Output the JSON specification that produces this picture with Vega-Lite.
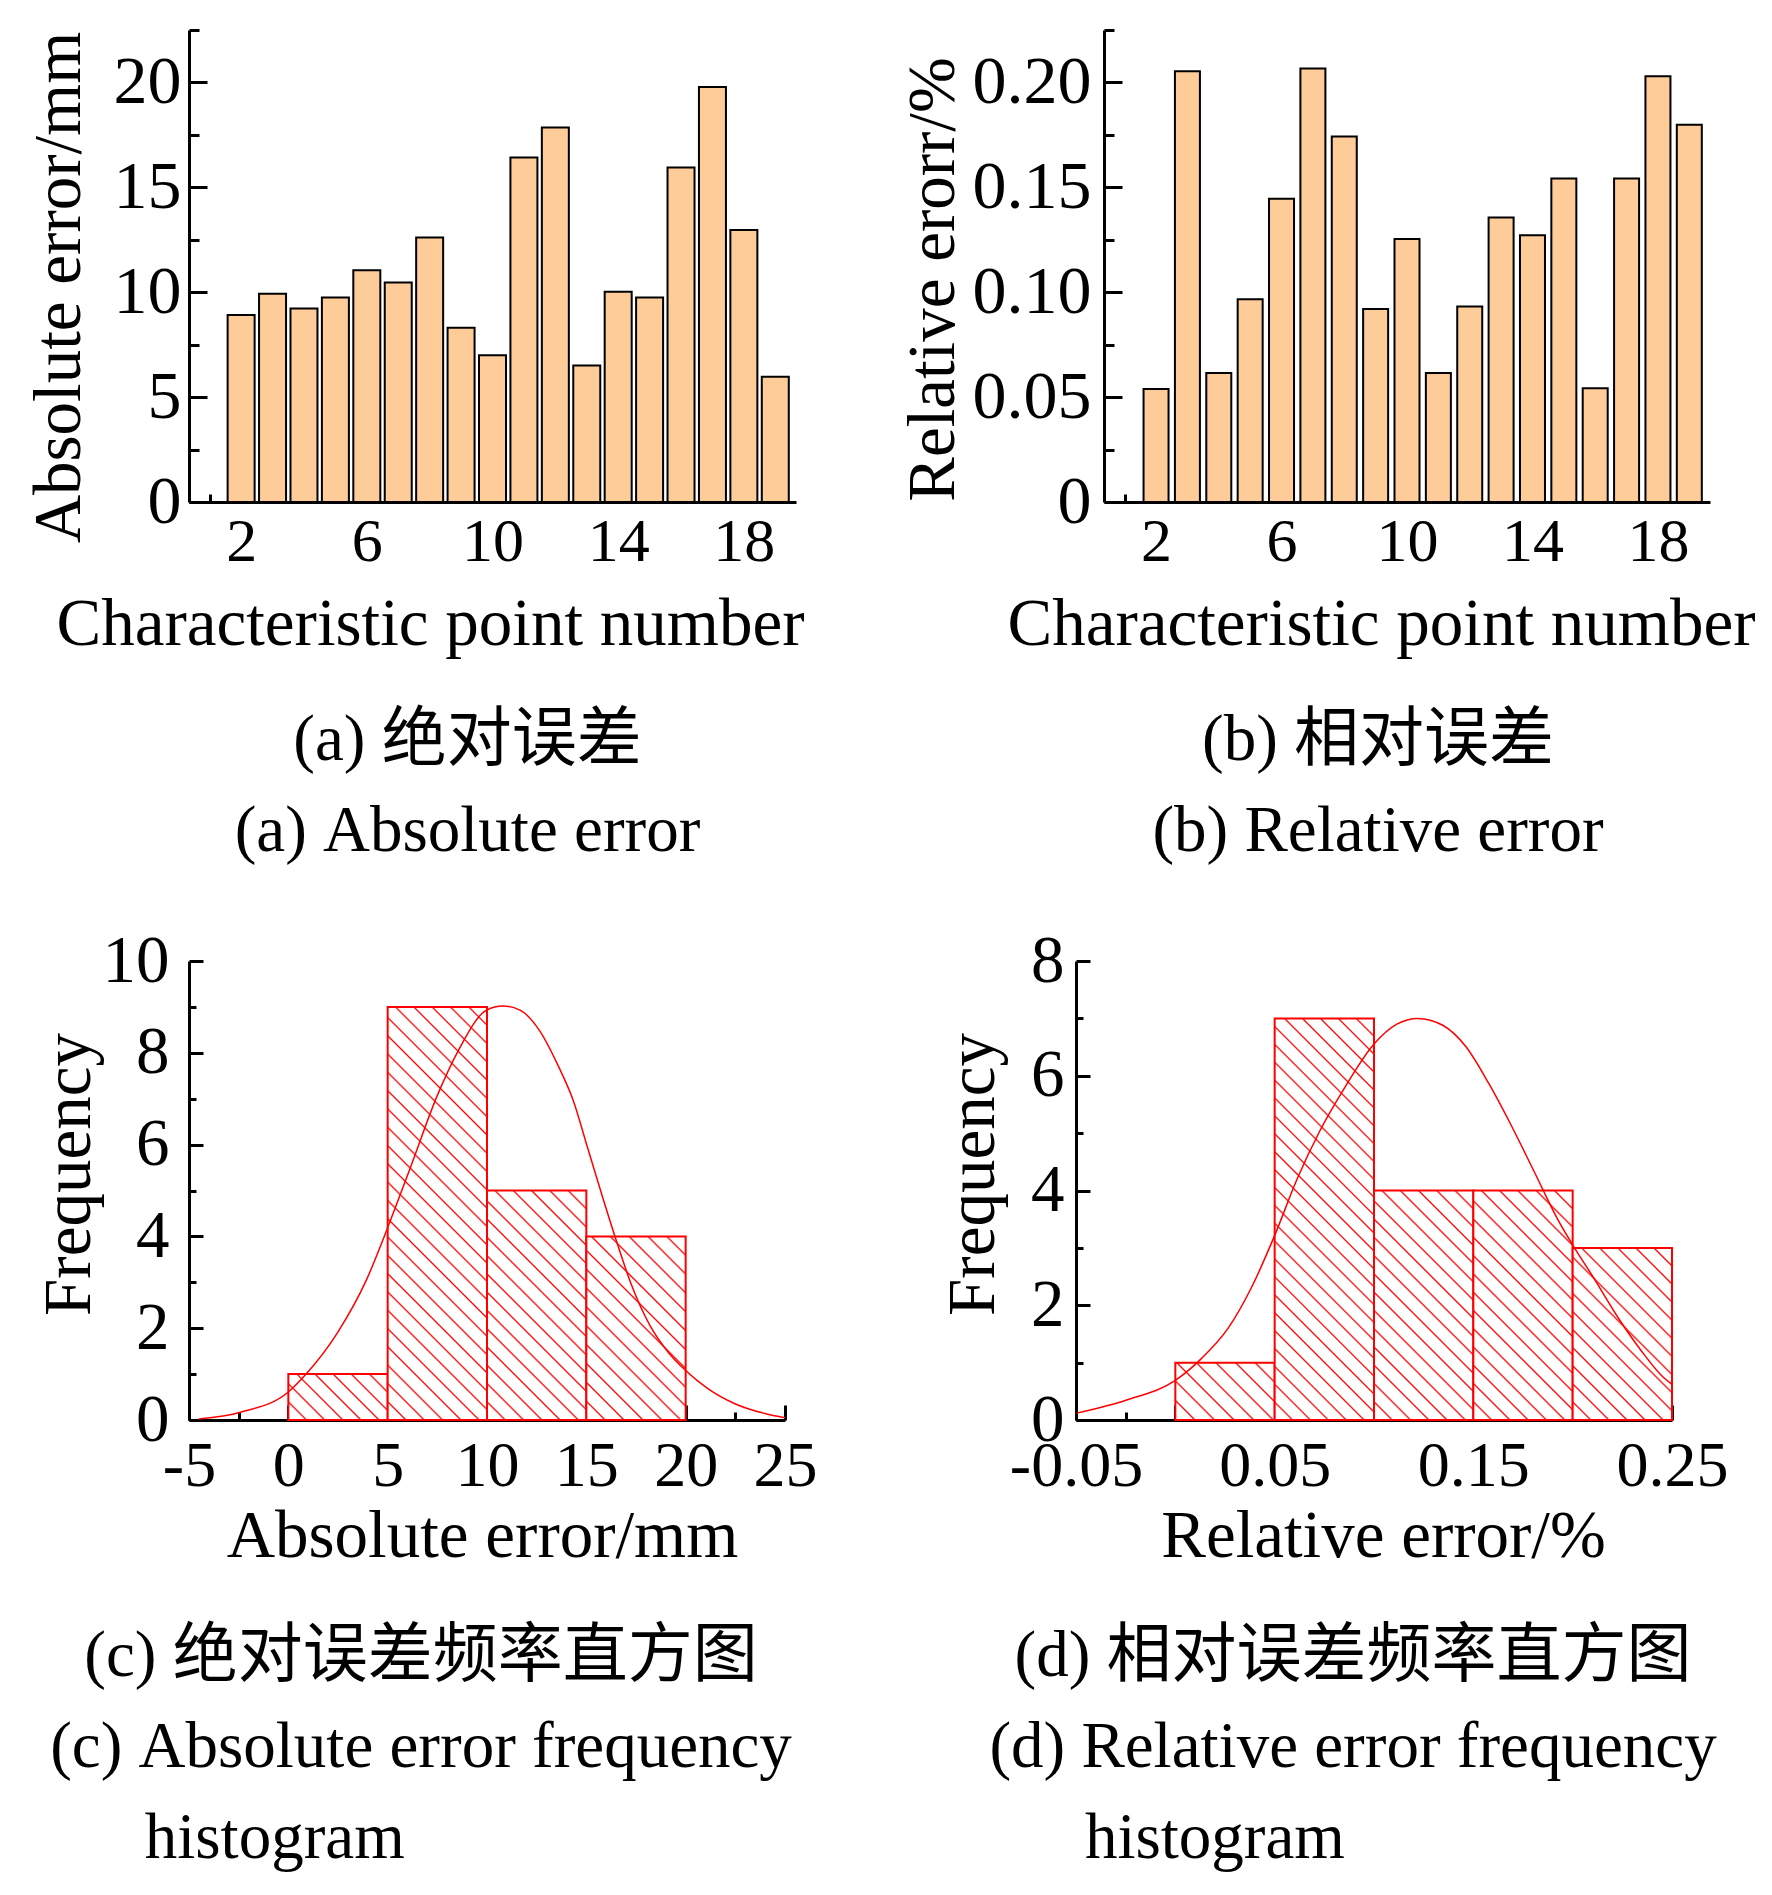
{
"$schema": "https://vega.github.io/schema/vega-lite/v6.json",
"background": "white",
"padding": {"left": 24, "top": 28, "right": 10, "bottom": 10},
"config": {
  "view": {"stroke": null},
  "font": "Liberation Serif",
  "axis": {"labelFont": "Liberation Serif", "titleFont": "Liberation Serif", "labelFontSize": 62, "titleFontSize": 67, "titleFontWeight": "normal", "labelColor": "black", "titleColor": "black", "domainColor": "black", "domainWidth": 3, "tickColor": "black", "tickWidth": 3, "grid": false, "labelFlush": false, "labelOverlap": false},
  "title": {"font": "Liberation Serif, Noto Sans CJK SC", "fontSize": 65, "fontWeight": "normal", "color": "black", "orient": "bottom", "anchor": "middle", "frame": "group", "lineHeight": 91}
},
"spacing": 931,
"bounds": "flush",
"vconcat": [
{"spacing": 308, "bounds": "flush", "hconcat": [
{
  "width": 607, "height": 472,
  "title": {"text": ["(a) 绝对误差", "(a) Absolute error"], "dx": -25, "offset": 52},
  "data": {"values": [{"x":2,"y":8.92},{"x":3,"y":9.93},{"x":4,"y":9.22},{"x":5,"y":9.75},{"x":6,"y":11.05},{"x":7,"y":10.46},{"x":8,"y":12.61},{"x":9,"y":8.31},{"x":10,"y":7.0},{"x":11,"y":16.42},{"x":12,"y":17.85},{"x":13,"y":6.51},{"x":14,"y":10.02},{"x":15,"y":9.75},{"x":16,"y":15.95},{"x":17,"y":19.78},{"x":18,"y":12.97},{"x":19,"y":5.97}]},
  "encoding": {
    "x": {"field": "x", "type": "quantitative", "scale": {"domain": [0.5, 19.5], "nice": false, "zero": false}, "axis": null},
    "y": {"field": "y", "type": "quantitative", "stack": null, "scale": {"domain": [0, 22.5], "nice": false}, "axis": null}
  },
  "layer": [
    {"mark": {"type": "bar", "orient": "vertical", "fill": "#FECC99", "stroke": "black", "strokeWidth": 2, "width": 27}},
    {"mark": {"type": "point", "opacity": 0},
     "encoding": {
       "x": {"field": "x", "type": "quantitative", "scale": {"domain": [0.5, 19.5], "nice": false, "zero": false},
             "axis": {"orient": "bottom", "values": [2,4,6,8,10,12,14,16,18], "labelExpr": "datum.value % 4 == 2 ? datum.label : ''", "tickSize": -16, "labelPadding": 25, "title": "Characteristic point number", "titleX": 241, "titlePadding": 14, "minExtent": 75, "maxExtent": 75}},
       "y": {"field": "y", "type": "quantitative", "scale": {"domain": [0, 22.5], "nice": false},
             "axis": {"orient": "left", "values": [0,5,10,15,20], "tickSize": -18, "labelPadding": 26, "labelFontSize": 68, "title": "Absolute error/mm", "titleY": 257, "titlePadding": 18, "minExtent": 78, "maxExtent": 78}}
     }},
    {"mark": {"type": "point", "opacity": 0},
     "encoding": {
       "x": {"field": "x", "type": "quantitative", "scale": {"domain": [0.5, 19.5], "nice": false, "zero": false},
             "axis": {"orient": "bottom", "values": [1,3,5,7,9,11,13,15,17,19], "labels": false, "domain": false, "tickSize": -8, "title": null}},
       "y": {"field": "y", "type": "quantitative", "scale": {"domain": [0, 22.5], "nice": false},
             "axis": {"orient": "left", "values": [2.5,7.5,12.5,17.5,22.5], "labels": false, "domain": false, "tickSize": -10, "title": null}}
     }}
  ],
  "resolve": {"axis": {"x": "independent", "y": "independent"}}
},
{
  "width": 606, "height": 472,
  "title": {"text": ["(b) 相对误差", "(b) Relative error"], "dx": -29, "offset": 52},
  "data": {"values": [{"x":2,"y":0.0539},{"x":3,"y":0.2053},{"x":4,"y":0.0615},{"x":5,"y":0.0966},{"x":6,"y":0.1446},{"x":7,"y":0.2066},{"x":8,"y":0.1742},{"x":9,"y":0.092},{"x":10,"y":0.1254},{"x":11,"y":0.0615},{"x":12,"y":0.0932},{"x":13,"y":0.1356},{"x":14,"y":0.1271},{"x":15,"y":0.1542},{"x":16,"y":0.0542},{"x":17,"y":0.1542},{"x":18,"y":0.2029},{"x":19,"y":0.1798}]},
  "encoding": {
    "x": {"field": "x", "type": "quantitative", "scale": {"domain": [0.5, 19.5], "nice": false, "zero": false}, "axis": null},
    "y": {"field": "y", "type": "quantitative", "stack": null, "scale": {"domain": [0, 0.225], "nice": false}, "axis": null}
  },
  "layer": [
    {"mark": {"type": "bar", "orient": "vertical", "fill": "#FECC99", "stroke": "black", "strokeWidth": 2, "width": 25}},
    {"mark": {"type": "point", "opacity": 0},
     "encoding": {
       "x": {"field": "x", "type": "quantitative", "scale": {"domain": [0.5, 19.5], "nice": false, "zero": false},
             "axis": {"orient": "bottom", "values": [2,4,6,8,10,12,14,16,18], "labelExpr": "datum.value % 4 == 2 ? datum.label : ''", "tickSize": -16, "labelPadding": 25, "title": "Characteristic point number", "titleX": 277, "titlePadding": 14, "minExtent": 75, "maxExtent": 75}},
       "y": {"field": "y", "type": "quantitative", "scale": {"domain": [0, 0.225], "nice": false},
             "axis": {"orient": "left", "values": [0,0.05,0.1,0.15,0.2], "labelExpr": "datum.value == 0 ? '0' : format(datum.value, '.2f')", "tickSize": -18, "labelPadding": 31, "labelFontSize": 68, "title": "Relative erorr/%", "titleY": 249, "titlePadding": 19, "minExtent": 118, "maxExtent": 118}}
     }},
    {"mark": {"type": "point", "opacity": 0},
     "encoding": {
       "x": {"field": "x", "type": "quantitative", "scale": {"domain": [0.5, 19.5], "nice": false, "zero": false},
             "axis": {"orient": "bottom", "values": [1,3,5,7,9,11,13,15,17,19], "labels": false, "domain": false, "tickSize": -8, "title": null}},
       "y": {"field": "y", "type": "quantitative", "scale": {"domain": [0, 0.225], "nice": false},
             "axis": {"orient": "left", "values": [0.025,0.075,0.125,0.175,0.225], "labels": false, "domain": false, "tickSize": -10, "title": null}}
     }}
  ],
  "resolve": {"axis": {"x": "independent", "y": "independent"}}
}
]},
{"spacing": 291, "bounds": "flush", "hconcat": [
{
  "width": 596, "height": 459,
  "title": {"text": ["(c) 绝对误差频率直方图", "(c) Absolute error frequency", "histogram\u00a0\u00a0\u00a0\u00a0\u00a0\u00a0\u00a0\u00a0\u00a0\u00a0\u00a0\u00a0\u00a0\u00a0\u00a0\u00a0\u00a0\u00a0\u200b"], "dx": -66, "offset": 56},
  "data": {"values": [{"x":0,"x2":5,"y":1},{"x":5,"x2":10,"y":9},{"x":10,"x2":15,"y":5},{"x":15,"x2":20,"y":4}]},
  "encoding": {
    "x": {"field": "x", "type": "quantitative", "scale": {"domain": [-5, 25], "nice": false, "zero": false}, "axis": null},
    "y": {"field": "y", "type": "quantitative", "stack": null, "scale": {"domain": [0, 10], "nice": false}, "axis": null}
  },
  "layer": [
    {"transform": [{"filter": "datum.y == 1"}],
     "mark": {"type": "rect", "stroke": "red", "strokeWidth": 2, "fill": {"gradient": "linear", "x1": 0, "y1": 1, "x2": 1.2048, "y2": 0.4431, "stops": [{"offset":0.1126,"color":"#fff"},{"offset":0.125,"color":"red"},{"offset":0.1374,"color":"#fff"},{"offset":0.2376,"color":"#fff"},{"offset":0.25,"color":"red"},{"offset":0.2624,"color":"#fff"},{"offset":0.3626,"color":"#fff"},{"offset":0.375,"color":"red"},{"offset":0.3874,"color":"#fff"},{"offset":0.4876,"color":"#fff"},{"offset":0.5,"color":"red"},{"offset":0.5124,"color":"#fff"},{"offset":0.6126,"color":"#fff"},{"offset":0.625,"color":"red"},{"offset":0.6374,"color":"#fff"},{"offset":0.7376,"color":"#fff"},{"offset":0.75,"color":"red"},{"offset":0.7624,"color":"#fff"},{"offset":0.8626,"color":"#fff"},{"offset":0.875,"color":"red"},{"offset":0.8874,"color":"#fff"}]}},
     "encoding": {"x2": {"field": "x2"}, "y2": {"datum": 0}}},
    {"transform": [{"filter": "datum.y == 9"}],
     "mark": {"type": "rect", "stroke": "red", "strokeWidth": 2, "fill": {"gradient": "linear", "x1": 0, "y1": 1, "x2": 0.2819, "y2": -0.1726, "stops": [{"offset":0.0322,"color":"#fff"},{"offset":0.0357,"color":"red"},{"offset":0.0392,"color":"#fff"},{"offset":0.0679,"color":"#fff"},{"offset":0.0714,"color":"red"},{"offset":0.0749,"color":"#fff"},{"offset":0.1036,"color":"#fff"},{"offset":0.1071,"color":"red"},{"offset":0.1106,"color":"#fff"},{"offset":0.1394,"color":"#fff"},{"offset":0.1429,"color":"red"},{"offset":0.1464,"color":"#fff"},{"offset":0.1751,"color":"#fff"},{"offset":0.1786,"color":"red"},{"offset":0.1821,"color":"#fff"},{"offset":0.2108,"color":"#fff"},{"offset":0.2143,"color":"red"},{"offset":0.2178,"color":"#fff"},{"offset":0.2465,"color":"#fff"},{"offset":0.25,"color":"red"},{"offset":0.2535,"color":"#fff"},{"offset":0.2822,"color":"#fff"},{"offset":0.2857,"color":"red"},{"offset":0.2892,"color":"#fff"},{"offset":0.3179,"color":"#fff"},{"offset":0.3214,"color":"red"},{"offset":0.3249,"color":"#fff"},{"offset":0.3536,"color":"#fff"},{"offset":0.3571,"color":"red"},{"offset":0.3606,"color":"#fff"},{"offset":0.3894,"color":"#fff"},{"offset":0.3929,"color":"red"},{"offset":0.3964,"color":"#fff"},{"offset":0.4251,"color":"#fff"},{"offset":0.4286,"color":"red"},{"offset":0.4321,"color":"#fff"},{"offset":0.4608,"color":"#fff"},{"offset":0.4643,"color":"red"},{"offset":0.4678,"color":"#fff"},{"offset":0.4965,"color":"#fff"},{"offset":0.5,"color":"red"},{"offset":0.5035,"color":"#fff"},{"offset":0.5322,"color":"#fff"},{"offset":0.5357,"color":"red"},{"offset":0.5392,"color":"#fff"},{"offset":0.5679,"color":"#fff"},{"offset":0.5714,"color":"red"},{"offset":0.5749,"color":"#fff"},{"offset":0.6036,"color":"#fff"},{"offset":0.6071,"color":"red"},{"offset":0.6106,"color":"#fff"},{"offset":0.6394,"color":"#fff"},{"offset":0.6429,"color":"red"},{"offset":0.6464,"color":"#fff"},{"offset":0.6751,"color":"#fff"},{"offset":0.6786,"color":"red"},{"offset":0.6821,"color":"#fff"},{"offset":0.7108,"color":"#fff"},{"offset":0.7143,"color":"red"},{"offset":0.7178,"color":"#fff"},{"offset":0.7465,"color":"#fff"},{"offset":0.75,"color":"red"},{"offset":0.7535,"color":"#fff"},{"offset":0.7822,"color":"#fff"},{"offset":0.7857,"color":"red"},{"offset":0.7892,"color":"#fff"},{"offset":0.8179,"color":"#fff"},{"offset":0.8214,"color":"red"},{"offset":0.8249,"color":"#fff"},{"offset":0.8536,"color":"#fff"},{"offset":0.8571,"color":"red"},{"offset":0.8606,"color":"#fff"},{"offset":0.8894,"color":"#fff"},{"offset":0.8929,"color":"red"},{"offset":0.8964,"color":"#fff"},{"offset":0.9251,"color":"#fff"},{"offset":0.9286,"color":"red"},{"offset":0.9321,"color":"#fff"},{"offset":0.9608,"color":"#fff"},{"offset":0.9643,"color":"red"},{"offset":0.9678,"color":"#fff"}]}},
     "encoding": {"x2": {"field": "x2"}, "y2": {"datum": 0}}},
    {"transform": [{"filter": "datum.y == 5"}],
     "mark": {"type": "rect", "stroke": "red", "strokeWidth": 2, "fill": {"gradient": "linear", "x1": 0, "y1": 1, "x2": 0.5221, "y2": -0.2068, "stops": [{"offset":0.0501,"color":"#fff"},{"offset":0.0556,"color":"red"},{"offset":0.0611,"color":"#fff"},{"offset":0.1056,"color":"#fff"},{"offset":0.1111,"color":"red"},{"offset":0.1166,"color":"#fff"},{"offset":0.1612,"color":"#fff"},{"offset":0.1667,"color":"red"},{"offset":0.1722,"color":"#fff"},{"offset":0.2167,"color":"#fff"},{"offset":0.2222,"color":"red"},{"offset":0.2277,"color":"#fff"},{"offset":0.2723,"color":"#fff"},{"offset":0.2778,"color":"red"},{"offset":0.2833,"color":"#fff"},{"offset":0.3278,"color":"#fff"},{"offset":0.3333,"color":"red"},{"offset":0.3388,"color":"#fff"},{"offset":0.3834,"color":"#fff"},{"offset":0.3889,"color":"red"},{"offset":0.3944,"color":"#fff"},{"offset":0.4389,"color":"#fff"},{"offset":0.4444,"color":"red"},{"offset":0.4499,"color":"#fff"},{"offset":0.4945,"color":"#fff"},{"offset":0.5,"color":"red"},{"offset":0.5055,"color":"#fff"},{"offset":0.5501,"color":"#fff"},{"offset":0.5556,"color":"red"},{"offset":0.5611,"color":"#fff"},{"offset":0.6056,"color":"#fff"},{"offset":0.6111,"color":"red"},{"offset":0.6166,"color":"#fff"},{"offset":0.6612,"color":"#fff"},{"offset":0.6667,"color":"red"},{"offset":0.6722,"color":"#fff"},{"offset":0.7167,"color":"#fff"},{"offset":0.7222,"color":"red"},{"offset":0.7277,"color":"#fff"},{"offset":0.7723,"color":"#fff"},{"offset":0.7778,"color":"red"},{"offset":0.7833,"color":"#fff"},{"offset":0.8278,"color":"#fff"},{"offset":0.8333,"color":"red"},{"offset":0.8388,"color":"#fff"},{"offset":0.8834,"color":"#fff"},{"offset":0.8889,"color":"red"},{"offset":0.8944,"color":"#fff"},{"offset":0.9389,"color":"#fff"},{"offset":0.9444,"color":"red"},{"offset":0.9499,"color":"#fff"}]}},
     "encoding": {"x2": {"field": "x2"}, "y2": {"datum": 0}}},
    {"transform": [{"filter": "datum.y == 4"}],
     "mark": {"type": "rect", "stroke": "red", "strokeWidth": 2, "fill": {"gradient": "linear", "x1": 0, "y1": 1, "x2": 0.6448, "y2": -0.1921, "stops": [{"offset":0.0603,"color":"#fff"},{"offset":0.0667,"color":"red"},{"offset":0.0731,"color":"#fff"},{"offset":0.1269,"color":"#fff"},{"offset":0.1333,"color":"red"},{"offset":0.1397,"color":"#fff"},{"offset":0.1936,"color":"#fff"},{"offset":0.2,"color":"red"},{"offset":0.2064,"color":"#fff"},{"offset":0.2603,"color":"#fff"},{"offset":0.2667,"color":"red"},{"offset":0.2731,"color":"#fff"},{"offset":0.3269,"color":"#fff"},{"offset":0.3333,"color":"red"},{"offset":0.3397,"color":"#fff"},{"offset":0.3936,"color":"#fff"},{"offset":0.4,"color":"red"},{"offset":0.4064,"color":"#fff"},{"offset":0.4603,"color":"#fff"},{"offset":0.4667,"color":"red"},{"offset":0.4731,"color":"#fff"},{"offset":0.5269,"color":"#fff"},{"offset":0.5333,"color":"red"},{"offset":0.5397,"color":"#fff"},{"offset":0.5936,"color":"#fff"},{"offset":0.6,"color":"red"},{"offset":0.6064,"color":"#fff"},{"offset":0.6603,"color":"#fff"},{"offset":0.6667,"color":"red"},{"offset":0.6731,"color":"#fff"},{"offset":0.7269,"color":"#fff"},{"offset":0.7333,"color":"red"},{"offset":0.7397,"color":"#fff"},{"offset":0.7936,"color":"#fff"},{"offset":0.8,"color":"red"},{"offset":0.8064,"color":"#fff"},{"offset":0.8603,"color":"#fff"},{"offset":0.8667,"color":"red"},{"offset":0.8731,"color":"#fff"},{"offset":0.9269,"color":"#fff"},{"offset":0.9333,"color":"red"},{"offset":0.9397,"color":"#fff"}]}},
     "encoding": {"x2": {"field": "x2"}, "y2": {"datum": 0}}},
    {"data": {"values": [{"x":-4.5,"y":0.02},{"x":-2.41,"y":0.17},{"x":0,"y":0.61},{"x":0.87,"y":0.99},{"x":2.47,"y":1.9},{"x":3.95,"y":3.07},{"x":5,"y":4.19},{"x":6.17,"y":5.53},{"x":7.48,"y":7.05},{"x":8.57,"y":8.06},{"x":9.98,"y":8.93},{"x":10.8,"y":9.02},{"x":11.66,"y":8.93},{"x":12.62,"y":8.5},{"x":13.58,"y":7.72},{"x":14.35,"y":6.95},{"x":15.03,"y":5.98},{"x":15.8,"y":4.88},{"x":16.47,"y":3.96},{"x":17.24,"y":2.98},{"x":18.2,"y":2.06},{"x":19.17,"y":1.45},{"x":20,"y":1.08},{"x":21.1,"y":0.69},{"x":22.45,"y":0.36},{"x":23.99,"y":0.14},{"x":25,"y":0.05}]},
     "mark": {"type": "line", "color": "red", "strokeWidth": 1.5, "interpolate": "monotone"}},
    {"mark": {"type": "point", "opacity": 0},
     "encoding": {
       "x": {"field": "x", "type": "quantitative", "scale": {"domain": [-5, 25], "nice": false, "zero": false},
             "axis": {"orient": "bottom", "values": [-5,0,5,10,15,20,25], "labelExpr": "(datum.value < 0 ? '-' : '') + format(abs(datum.value), 'd')", "tickSize": -15, "labelPadding": 29, "labelFontSize": 64, "title": "Absolute error/mm", "titleX": 293, "titlePadding": 13, "minExtent": 70, "maxExtent": 70}},
       "y": {"field": "y", "type": "quantitative", "scale": {"domain": [0, 10], "nice": false},
             "axis": {"orient": "left", "values": [0,2,4,6,8,10], "tickSize": -14, "labelPadding": 34, "labelFontSize": 67, "title": "Frequency", "titleY": 213, "titlePadding": 24, "minExtent": 62, "maxExtent": 62}}
     }},
    {"mark": {"type": "point", "opacity": 0},
     "encoding": {
       "x": {"field": "x", "type": "quantitative", "scale": {"domain": [-5, 25], "nice": false, "zero": false},
             "axis": {"orient": "bottom", "values": [-2.5,2.5,7.5,12.5,17.5,22.5], "labels": false, "domain": false, "tickSize": -8, "title": null}},
       "y": {"field": "y", "type": "quantitative", "scale": {"domain": [0, 10], "nice": false},
             "axis": {"orient": "left", "values": [1,3,5,7,9], "labels": false, "domain": false, "tickSize": -7, "title": null}}
     }}
  ],
  "resolve": {"axis": {"x": "independent", "y": "independent"}}
},
{
  "width": 596, "height": 459,
  "title": {"text": ["(d) 相对误差频率直方图", "(d) Relative error frequency", "histogram\u00a0\u00a0\u00a0\u00a0\u00a0\u00a0\u00a0\u00a0\u00a0\u00a0\u00a0\u00a0\u00a0\u00a0\u00a0\u00a0\u00a0\u200b"], "dx": -21, "offset": 56},
  "data": {"values": [{"x":0,"x2":0.05,"y":1},{"x":0.05,"x2":0.1,"y":7},{"x":0.1,"x2":0.15,"y":4},{"x":0.15,"x2":0.2,"y":4},{"x":0.2,"x2":0.25,"y":3}]},
  "encoding": {
    "x": {"field": "x", "type": "quantitative", "scale": {"domain": [-0.05, 0.25], "nice": false, "zero": false}, "axis": null},
    "y": {"field": "y", "type": "quantitative", "stack": null, "scale": {"domain": [0, 8], "nice": false}, "axis": null}
  },
  "layer": [
    {"transform": [{"filter": "datum.y == 1"}],
     "mark": {"type": "rect", "stroke": "red", "strokeWidth": 2, "fill": {"gradient": "linear", "x1": 0, "y1": 1, "x2": 1.1828, "y2": 0.3163, "stops": [{"offset":0.1135,"color":"#fff"},{"offset":0.125,"color":"red"},{"offset":0.1365,"color":"#fff"},{"offset":0.2385,"color":"#fff"},{"offset":0.25,"color":"red"},{"offset":0.2615,"color":"#fff"},{"offset":0.3635,"color":"#fff"},{"offset":0.375,"color":"red"},{"offset":0.3865,"color":"#fff"},{"offset":0.4885,"color":"#fff"},{"offset":0.5,"color":"red"},{"offset":0.5115,"color":"#fff"},{"offset":0.6135,"color":"#fff"},{"offset":0.625,"color":"red"},{"offset":0.6365,"color":"#fff"},{"offset":0.7385,"color":"#fff"},{"offset":0.75,"color":"red"},{"offset":0.7615,"color":"#fff"},{"offset":0.8635,"color":"#fff"},{"offset":0.875,"color":"red"},{"offset":0.8865,"color":"#fff"}]}},
     "encoding": {"x2": {"field": "x2"}, "y2": {"datum": 0}}},
    {"transform": [{"filter": "datum.y == 7"}],
     "mark": {"type": "rect", "stroke": "red", "strokeWidth": 2, "fill": {"gradient": "linear", "x1": 0, "y1": 1, "x2": 0.2906, "y2": -0.1754, "stops": [{"offset":0.0322,"color":"#fff"},{"offset":0.0357,"color":"red"},{"offset":0.0392,"color":"#fff"},{"offset":0.0679,"color":"#fff"},{"offset":0.0714,"color":"red"},{"offset":0.0749,"color":"#fff"},{"offset":0.1036,"color":"#fff"},{"offset":0.1071,"color":"red"},{"offset":0.1106,"color":"#fff"},{"offset":0.1394,"color":"#fff"},{"offset":0.1429,"color":"red"},{"offset":0.1464,"color":"#fff"},{"offset":0.1751,"color":"#fff"},{"offset":0.1786,"color":"red"},{"offset":0.1821,"color":"#fff"},{"offset":0.2108,"color":"#fff"},{"offset":0.2143,"color":"red"},{"offset":0.2178,"color":"#fff"},{"offset":0.2465,"color":"#fff"},{"offset":0.25,"color":"red"},{"offset":0.2535,"color":"#fff"},{"offset":0.2822,"color":"#fff"},{"offset":0.2857,"color":"red"},{"offset":0.2892,"color":"#fff"},{"offset":0.3179,"color":"#fff"},{"offset":0.3214,"color":"red"},{"offset":0.3249,"color":"#fff"},{"offset":0.3536,"color":"#fff"},{"offset":0.3571,"color":"red"},{"offset":0.3606,"color":"#fff"},{"offset":0.3894,"color":"#fff"},{"offset":0.3929,"color":"red"},{"offset":0.3964,"color":"#fff"},{"offset":0.4251,"color":"#fff"},{"offset":0.4286,"color":"red"},{"offset":0.4321,"color":"#fff"},{"offset":0.4608,"color":"#fff"},{"offset":0.4643,"color":"red"},{"offset":0.4678,"color":"#fff"},{"offset":0.4965,"color":"#fff"},{"offset":0.5,"color":"red"},{"offset":0.5035,"color":"#fff"},{"offset":0.5322,"color":"#fff"},{"offset":0.5357,"color":"red"},{"offset":0.5392,"color":"#fff"},{"offset":0.5679,"color":"#fff"},{"offset":0.5714,"color":"red"},{"offset":0.5749,"color":"#fff"},{"offset":0.6036,"color":"#fff"},{"offset":0.6071,"color":"red"},{"offset":0.6106,"color":"#fff"},{"offset":0.6394,"color":"#fff"},{"offset":0.6429,"color":"red"},{"offset":0.6464,"color":"#fff"},{"offset":0.6751,"color":"#fff"},{"offset":0.6786,"color":"red"},{"offset":0.6821,"color":"#fff"},{"offset":0.7108,"color":"#fff"},{"offset":0.7143,"color":"red"},{"offset":0.7178,"color":"#fff"},{"offset":0.7465,"color":"#fff"},{"offset":0.75,"color":"red"},{"offset":0.7535,"color":"#fff"},{"offset":0.7822,"color":"#fff"},{"offset":0.7857,"color":"red"},{"offset":0.7892,"color":"#fff"},{"offset":0.8179,"color":"#fff"},{"offset":0.8214,"color":"red"},{"offset":0.8249,"color":"#fff"},{"offset":0.8536,"color":"#fff"},{"offset":0.8571,"color":"red"},{"offset":0.8606,"color":"#fff"},{"offset":0.8894,"color":"#fff"},{"offset":0.8929,"color":"red"},{"offset":0.8964,"color":"#fff"},{"offset":0.9251,"color":"#fff"},{"offset":0.9286,"color":"red"},{"offset":0.9321,"color":"#fff"},{"offset":0.9608,"color":"#fff"},{"offset":0.9643,"color":"red"},{"offset":0.9678,"color":"#fff"}]}},
     "encoding": {"x2": {"field": "x2"}, "y2": {"datum": 0}}},
    {"transform": [{"filter": "datum.y == 4"}],
     "mark": {"type": "rect", "stroke": "red", "strokeWidth": 2, "fill": {"gradient": "linear", "x1": 0, "y1": 1, "x2": 0.5221, "y2": -0.2068, "stops": [{"offset":0.0501,"color":"#fff"},{"offset":0.0556,"color":"red"},{"offset":0.0611,"color":"#fff"},{"offset":0.1056,"color":"#fff"},{"offset":0.1111,"color":"red"},{"offset":0.1166,"color":"#fff"},{"offset":0.1612,"color":"#fff"},{"offset":0.1667,"color":"red"},{"offset":0.1722,"color":"#fff"},{"offset":0.2167,"color":"#fff"},{"offset":0.2222,"color":"red"},{"offset":0.2277,"color":"#fff"},{"offset":0.2723,"color":"#fff"},{"offset":0.2778,"color":"red"},{"offset":0.2833,"color":"#fff"},{"offset":0.3278,"color":"#fff"},{"offset":0.3333,"color":"red"},{"offset":0.3388,"color":"#fff"},{"offset":0.3834,"color":"#fff"},{"offset":0.3889,"color":"red"},{"offset":0.3944,"color":"#fff"},{"offset":0.4389,"color":"#fff"},{"offset":0.4444,"color":"red"},{"offset":0.4499,"color":"#fff"},{"offset":0.4945,"color":"#fff"},{"offset":0.5,"color":"red"},{"offset":0.5055,"color":"#fff"},{"offset":0.5501,"color":"#fff"},{"offset":0.5556,"color":"red"},{"offset":0.5611,"color":"#fff"},{"offset":0.6056,"color":"#fff"},{"offset":0.6111,"color":"red"},{"offset":0.6166,"color":"#fff"},{"offset":0.6612,"color":"#fff"},{"offset":0.6667,"color":"red"},{"offset":0.6722,"color":"#fff"},{"offset":0.7167,"color":"#fff"},{"offset":0.7222,"color":"red"},{"offset":0.7277,"color":"#fff"},{"offset":0.7723,"color":"#fff"},{"offset":0.7778,"color":"red"},{"offset":0.7833,"color":"#fff"},{"offset":0.8278,"color":"#fff"},{"offset":0.8333,"color":"red"},{"offset":0.8388,"color":"#fff"},{"offset":0.8834,"color":"#fff"},{"offset":0.8889,"color":"red"},{"offset":0.8944,"color":"#fff"},{"offset":0.9389,"color":"#fff"},{"offset":0.9444,"color":"red"},{"offset":0.9499,"color":"#fff"}]}},
     "encoding": {"x2": {"field": "x2"}, "y2": {"datum": 0}}},
    {"transform": [{"filter": "datum.y == 3"}],
     "mark": {"type": "rect", "stroke": "red", "strokeWidth": 2, "fill": {"gradient": "linear", "x1": 0, "y1": 1, "x2": 0.6826, "y2": -0.1831, "stops": [{"offset":0.0601,"color":"#fff"},{"offset":0.0667,"color":"red"},{"offset":0.0733,"color":"#fff"},{"offset":0.1267,"color":"#fff"},{"offset":0.1333,"color":"red"},{"offset":0.1399,"color":"#fff"},{"offset":0.1934,"color":"#fff"},{"offset":0.2,"color":"red"},{"offset":0.2066,"color":"#fff"},{"offset":0.2601,"color":"#fff"},{"offset":0.2667,"color":"red"},{"offset":0.2733,"color":"#fff"},{"offset":0.3267,"color":"#fff"},{"offset":0.3333,"color":"red"},{"offset":0.3399,"color":"#fff"},{"offset":0.3934,"color":"#fff"},{"offset":0.4,"color":"red"},{"offset":0.4066,"color":"#fff"},{"offset":0.4601,"color":"#fff"},{"offset":0.4667,"color":"red"},{"offset":0.4733,"color":"#fff"},{"offset":0.5267,"color":"#fff"},{"offset":0.5333,"color":"red"},{"offset":0.5399,"color":"#fff"},{"offset":0.5934,"color":"#fff"},{"offset":0.6,"color":"red"},{"offset":0.6066,"color":"#fff"},{"offset":0.6601,"color":"#fff"},{"offset":0.6667,"color":"red"},{"offset":0.6733,"color":"#fff"},{"offset":0.7267,"color":"#fff"},{"offset":0.7333,"color":"red"},{"offset":0.7399,"color":"#fff"},{"offset":0.7934,"color":"#fff"},{"offset":0.8,"color":"red"},{"offset":0.8066,"color":"#fff"},{"offset":0.8601,"color":"#fff"},{"offset":0.8667,"color":"red"},{"offset":0.8733,"color":"#fff"},{"offset":0.9267,"color":"#fff"},{"offset":0.9333,"color":"red"},{"offset":0.9399,"color":"#fff"}]}},
     "encoding": {"x2": {"field": "x2"}, "y2": {"datum": 0}}},
    {"data": {"values": [{"x":-0.0496,"y":0.12},{"x":-0.0245,"y":0.35},{"x":0,"y":0.69},{"x":0.0131,"y":1.07},{"x":0.0266,"y":1.6},{"x":0.0382,"y":2.3},{"x":0.0498,"y":3.2},{"x":0.0613,"y":4.2},{"x":0.0729,"y":5.05},{"x":0.0845,"y":5.75},{"x":0.0999,"y":6.55},{"x":0.1115,"y":6.9},{"x":0.122,"y":7.0},{"x":0.1346,"y":6.88},{"x":0.1462,"y":6.51},{"x":0.1577,"y":5.87},{"x":0.1693,"y":5.12},{"x":0.1809,"y":4.31},{"x":0.1924,"y":3.5},{"x":0.2002,"y":3.04},{"x":0.2098,"y":2.52},{"x":0.2233,"y":1.76},{"x":0.2349,"y":1.19},{"x":0.2446,"y":0.78},{"x":0.25,"y":0.62}]},
     "mark": {"type": "line", "color": "red", "strokeWidth": 1.5, "interpolate": "monotone"}},
    {"mark": {"type": "point", "opacity": 0},
     "encoding": {
       "x": {"field": "x", "type": "quantitative", "scale": {"domain": [-0.05, 0.25], "nice": false, "zero": false},
             "axis": {"orient": "bottom", "values": [-0.05,0,0.05,0.1,0.15,0.2,0.25], "labelExpr": "round(datum.value * 100) % 10 != 0 ? (datum.value < 0 ? '-' : '') + format(abs(datum.value), '.2f') : ''", "tickSize": -15, "labelPadding": 29, "labelFontSize": 64, "title": "Relative error/%", "titleX": 307, "titlePadding": 13, "minExtent": 70, "maxExtent": 70}},
       "y": {"field": "y", "type": "quantitative", "scale": {"domain": [0, 8], "nice": false},
             "axis": {"orient": "left", "values": [0,2,4,6,8], "tickSize": -14, "labelPadding": 26, "labelFontSize": 67, "title": "Frequency", "titleY": 213, "titlePadding": 17, "minExtent": 52, "maxExtent": 52}}
     }},
    {"mark": {"type": "point", "opacity": 0},
     "encoding": {
       "x": {"field": "x", "type": "quantitative", "scale": {"domain": [-0.05, 0.25], "nice": false, "zero": false},
             "axis": {"orient": "bottom", "values": [-0.025,0.025,0.075,0.125,0.175,0.225], "labels": false, "domain": false, "tickSize": -8, "title": null}},
       "y": {"field": "y", "type": "quantitative", "scale": {"domain": [0, 8], "nice": false},
             "axis": {"orient": "left", "values": [1,3,5,7], "labels": false, "domain": false, "tickSize": -7, "title": null}}
     }}
  ],
  "resolve": {"axis": {"x": "independent", "y": "independent"}}
}
]}
]
}
